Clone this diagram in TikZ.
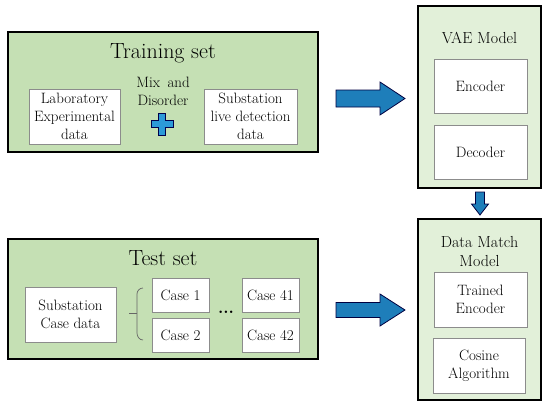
\documentclass[tikz,border=0pt]{standalone}
\definecolor{setgreen}{RGB}{197,224,180}
\definecolor{modelgreen}{RGB}{226,240,217}
\definecolor{arrowblue}{RGB}{30,126,186}
\definecolor{plusblue}{RGB}{44,154,216}
\tikzset{
  setbox/.style={draw=black, line width=1.5pt, fill=setgreen},
  modelbox/.style={draw=black, line width=1.2pt, fill=modelgreen},
  databox/.style={draw=black!45, line width=0.8pt, fill=white, align=center, inner sep=0pt,
    font=\fontsize{15}{18}\selectfont},
  title/.style={font=\fontsize{22}{26}\selectfont, inner sep=0pt},
  label/.style={font=\fontsize{15}{18}\selectfont, align=center, inner sep=0pt},
  blockarrow/.style={draw=black!75!blue, line width=0.8pt, fill=arrowblue, line join=miter},
}
\begin{document}
\begin{tikzpicture}[x=1pt, y=-1pt]
\useasboundingbox (0,0) rectangle (550,408);
% training set
\node[setbox, minimum width=310pt, minimum height=120pt] (train) at (163,92) {};
\node[title] (traintitle) at (163,53) {Training set};
\node[databox, minimum width=91pt, minimum height=55pt] (lab) at (74.5,116.5) {Laboratory\\Experimental\\data};
\node[label] (mix) at (163,91) {Mix\enspace and\\Disorder};
\node[databox, minimum width=93pt, minimum height=55pt] (live) at (250.5,116.5) {Substation\\live detection\\data};
\coordinate (plus) at (162,124);
\filldraw[draw=black!70!blue, line width=0.7pt, fill=plusblue] (plus) ++(-3.5,-11) -- ++(7,0) -- ++(0,7.5) -- ++(7.5,0) -- ++(0,7) -- ++(-7.5,0) -- ++(0,7.5) -- ++(-7,0) -- ++(0,-7.5) -- ++(-7.5,0) -- ++(0,-7) -- ++(7.5,0) -- cycle;

% VAE model
\node[modelbox, minimum width=123pt, minimum height=182pt] (vae) at (479.5,97) {};
\node[label, font=\fontsize{16}{19}\selectfont] (vaetitle) at (479.5,38) {VAE Model};
\node[databox, minimum width=93pt, minimum height=54pt] (enc) at (480.5,86) {Encoder};
\node[databox, minimum width=93pt, minimum height=54pt] (dec) at (480.5,152) {Decoder};

% test set
\node[setbox, minimum width=310pt, minimum height=120pt] (test) at (163,299) {};
\node[title] (testtitle) at (163,258) {Test set};
\node[databox, minimum width=91pt, minimum height=55pt] (subcase) at (70.5,314.5) {Substation\\Case data};
\coordinate (brace) at (137,313);
\draw[black!60, line width=0.7pt] (brace) -- ++(-8,0);
\draw[black!60, line width=0.7pt] (143,288) to[out=180,in=90] (137,294) -- (137,333) to[out=-90,in=180] (143,340);
\node[databox, minimum width=57pt, minimum height=34pt] (case1) at (180.5,295) {Case 1};
\node[databox, minimum width=57pt, minimum height=34pt] (case2) at (180.5,335) {Case 2};
\node[label, font=\fontsize{17}{19}\selectfont\bfseries] (dots) at (226,312) {...};
\node[databox, minimum width=57pt, minimum height=34pt] (case41) at (270.5,295) {Case 41};
\node[databox, minimum width=57pt, minimum height=34pt] (case42) at (270.5,335) {Case 42};

% data match model
\node[modelbox, minimum width=123pt, minimum height=181pt] (match) at (479.5,309.5) {};
\node[label, font=\fontsize{16}{19}\selectfont] (matchtitle) at (479.5,252) {Data Match\\Model};
\node[databox, minimum width=93pt, minimum height=55pt] (trained) at (480.5,299.5) {Trained\\Encoder};
\node[databox, minimum width=92pt, minimum height=55pt] (cosine) at (479,365.5) {Cosine\\Algorithm};

% arrows
\coordinate (arr1) at (336,98.5);
\filldraw[blockarrow] (arr1) ++(0,-8.5) -- ++(44,0) -- ++(0,-8) -- ++(25,16.5) -- ++(-25,16.5) -- ++(0,-8) -- ++(-44,0) -- cycle;
\coordinate (arr2) at (336,310);
\filldraw[blockarrow] (arr2) ++(0,-7.5) -- ++(44,0) -- ++(0,-8.5) -- ++(25,16) -- ++(-25,16) -- ++(0,-8.5) -- ++(-44,0) -- cycle;
\coordinate (arr3) at (480,192);
\filldraw[blockarrow] (arr3) ++(-4.5,0) -- ++(9,0) -- ++(0,12) -- ++(4,0) -- ++(-8.5,11) -- ++(-8.5,-11) -- ++(4,0) -- cycle;
\end{tikzpicture}
\end{document}
